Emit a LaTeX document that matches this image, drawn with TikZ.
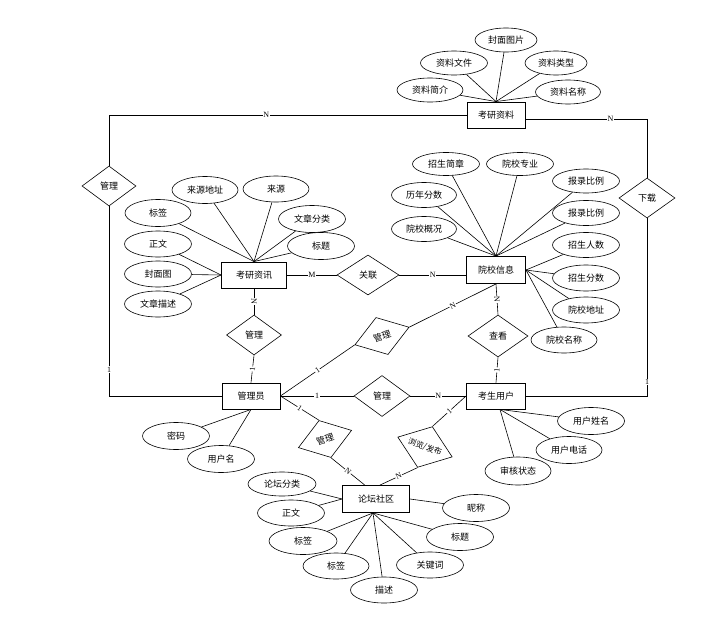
\documentclass[tikz,border=0pt]{standalone}
\usepackage{fontspec}
\setmainfont{Liberation Serif}
\newfontfamily\cjk{Noto Sans CJK SC}
\usetikzlibrary{shapes.geometric}
\begin{document}
\begin{tikzpicture}[x=1pt,y=-1pt,
  every node/.style={font=\cjk\fontsize{9}{10}\selectfont, inner sep=0pt},
  ent/.style={draw, rectangle, line width=0.9pt, minimum width=58pt, minimum height=26pt},
  attr/.style={draw, ellipse, line width=0.6pt, minimum width=66pt, minimum height=26pt},
  rel/.style={draw, diamond, line width=0.6pt, minimum width=56pt, minimum height=40pt},
  conn/.style={line width=0.6pt},
  lab/.style={font=\rmfamily\fontsize{8}{8}\selectfont, fill=white, inner sep=0.6pt},
  slab/.style={lab, sloped}]
\useasboundingbox (0,0) rectangle (726,629);

% entities
\node[ent] (kyzl) at (496,115) {考研资料};
\node[ent, minimum width=65pt] (kyzx) at (254,275) {考研资讯};
\node[ent, minimum width=59pt, minimum height=27pt] (yxxx) at (496,270) {院校信息};
\node[ent] (gly) at (251,396) {管理员};
\node[ent, minimum width=59pt] (kssy) at (496,396) {考生用户};
\node[ent, minimum width=67pt, minimum height=27pt] (ltsq) at (376,499) {论坛社区};

% relations
\node[rel, minimum width=54pt] (r1) at (109,186) {管理};
\node[rel, minimum width=62pt] (r2) at (368,275) {关联};
\node[rel, minimum width=55pt] (r3) at (254,335) {管理};
\node[rel, minimum width=60pt, minimum height=42pt] (r4) at (498,336) {查看};
\node[rel, minimum height=41pt] (r5) at (382,396) {管理};
\node[rel, minimum width=57pt, minimum height=39pt, rotate=18] (r6) at (382,336) {管理};
\node[rel, minimum height=39pt, rotate=18] (r7) at (325,439) {管理};
\node[rel, minimum width=58pt, rotate=-20, font=\cjk\fontsize{8}{9}\selectfont] (r8) at (425,447) {浏览/发布};
\node[rel] (r9) at (647,198) {下载};

% attributes of 考研资料
\node[attr, minimum width=62pt, minimum height=24pt] (a1) at (506,40) {封面图片};
\node[attr, minimum width=67pt, minimum height=24pt] (a2) at (454,63) {资料文件};
\node[attr, minimum width=62pt, minimum height=24pt] (a3) at (556,63) {资料类型};
\node[attr, minimum height=24pt] (a4) at (430,90) {资料简介};
\node[attr, minimum width=65pt, minimum height=24pt] (a5) at (568,92) {资料名称};
\foreach \n in {a1,a2,a3,a4,a5} \draw[conn] (\n) -- (kyzl.north);

% attributes of 考研资讯
\node[attr, minimum height=27pt] (b1) at (205,190) {来源地址};
\node[attr] (b2) at (276,189) {来源};
\node[attr, minimum height=27pt] (b3) at (158,213) {标签};
\node[attr, minimum width=67pt, minimum height=27pt] (b4) at (312,219) {文章分类};
\node[attr, minimum width=67pt] (b5) at (158,244) {正文};
\node[attr, minimum width=67pt, minimum height=27pt] (b6) at (321,246) {标题};
\node[attr, minimum width=67pt] (b7) at (158,274) {封面图};
\node[attr, minimum width=67pt] (b8) at (158,304) {文章描述};
\foreach \n in {b1,b2,b3,b4,b6} \draw[conn] (\n) -- (kyzx.north);
\foreach \n in {b5,b7,b8} \draw[conn] (\n) -- (kyzx.west);

% attributes of 院校信息
\node[attr, minimum width=67pt, minimum height=23pt] (c1) at (446,164) {招生简章};
\node[attr, minimum width=67pt, minimum height=23pt] (c2) at (520,164) {院校专业};
\node[attr, minimum width=65pt, minimum height=25pt] (c3) at (424,195) {历年分数};
\node[attr, minimum width=65pt, minimum height=25pt] (c4) at (424,229) {院校概况};
\node[attr, minimum width=67pt, minimum height=24pt] (c5) at (586,181) {报录比例};
\node[attr, minimum width=67pt, minimum height=25pt] (c6) at (586,213) {报录比例};
\node[attr, minimum width=67pt, minimum height=25pt] (c7) at (586,245) {招生人数};
\node[attr, minimum width=67pt] (c8) at (586,278) {招生分数};
\node[attr, minimum width=67pt] (c9) at (586,310) {院校地址};
\node[attr] (c10) at (564,340) {院校名称};
\foreach \n in {c1,c2,c3,c4,c5,c6} \draw[conn] (\n) -- (yxxx.north);
\foreach \n in {c7,c8,c9,c10} \draw[conn] (\n) -- (yxxx.east);

% attributes of 管理员
\node[attr, minimum width=67pt, minimum height=27pt] (d1) at (176,436) {密码};
\node[attr, minimum width=67pt, minimum height=27pt] (d2) at (221,459) {用户名};
\foreach \n in {d1,d2} \draw[conn] (\n) -- (gly.south);

% attributes of 考生用户
\node[attr, minimum width=67pt, minimum height=27pt] (e1) at (591,421) {用户姓名};
\node[attr, minimum height=27pt] (e2) at (569,450) {用户电话};
\node[attr, minimum height=28pt] (e3) at (518,471) {审核状态};
\foreach \n in {e1,e2,e3} \draw[conn] (\n) -- ([xshift=4pt]kssy.south);

% attributes of 论坛社区
\node[attr, minimum width=68pt, minimum height=24pt] (f1) at (282,484) {论坛分类};
\node[attr, minimum width=67pt] (f2) at (291,513) {正文};
\node[attr, minimum width=68pt, minimum height=27pt] (f3) at (303,541) {标签};
\node[attr] (f4) at (336,566) {标签};
\node[attr, minimum width=67pt] (f5) at (384,590) {描述};
\node[attr, minimum width=67pt] (f6) at (430,565) {关键词};
\node[attr, minimum width=67pt, minimum height=27pt] (f7) at (460,537) {标题};
\node[attr, minimum width=67pt, minimum height=27pt] (f8) at (476,508) {昵称};
\foreach \n in {f1,f2} \draw[conn] (\n) -- (ltsq.west);
\foreach \n in {f3,f4,f5,f6,f7} \draw[conn] (\n) -- ([xshift=-3pt]ltsq.south);
\draw[conn] (f8) -- (ltsq.east);

% relationship connectors
\draw[conn] (kyzl.west) -| node[lab, pos=0.28] {N} (r1.north);
\draw[conn] (r1.south) |- node[lab, pos=0.43] {1} (gly.west);
\draw[conn] (kyzl.-8) -| node[lab, pos=0.35] {N} (r9.north);
\draw[conn] (r9.south) |- node[lab, pos=0.46] {1} (kssy.east);

\draw[conn] (kyzx.east) -- node[lab] {M} (r2.west);
\draw[conn] (r2.east) -- node[lab] {N} (r2.east -| yxxx.west);
\draw[conn] (kyzx.south) -- node[slab] {N} (r3.north);
\draw[conn] (r3.south) -- node[slab] {1} (gly.north);
\draw[conn] (yxxx.south) -- node[slab] {N} (r4.north);
\draw[conn] (r4.south) -- node[slab] {1} (kssy.north);
\draw[conn] (gly.east) -- node[lab] {1} (r5.west);
\draw[conn] (r5.east) -- node[lab] {N} (kssy.west);
\draw[conn] (gly.east) -- node[slab] {1} (r6.west);
\draw[conn] (r6.east) -- node[slab] {N} (yxxx.south);
\draw[conn] (gly.east) -- node[slab] {1} (r7.north);
\draw[conn] (r7.south) -- node[slab] {N} (ltsq.129);
\draw[conn] (kssy.west) -- node[slab] {1} (r8.north);
\draw[conn] (r8.south) -- node[slab] {N} (ltsq.74);
\end{tikzpicture}
\end{document}
